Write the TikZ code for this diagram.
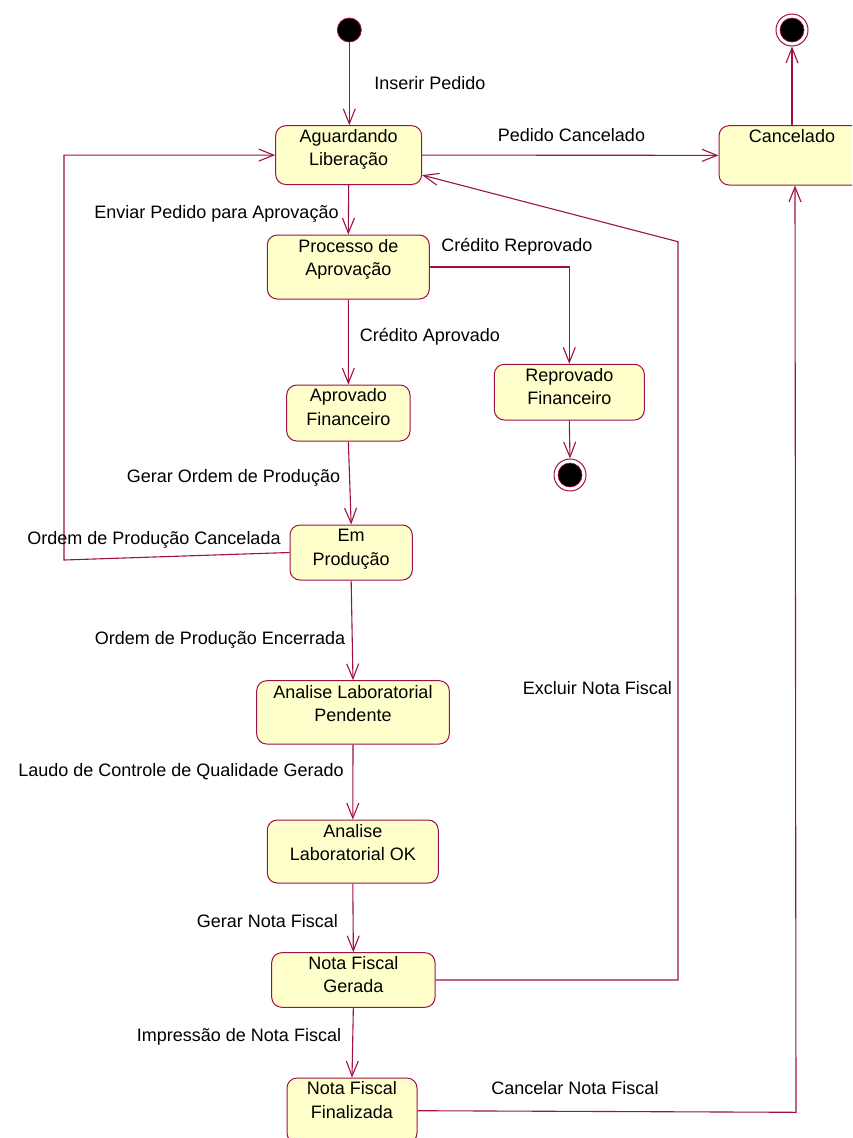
\documentclass[tikz,border=0pt]{standalone}
\usepackage{fontspec}
\setmainfont{Liberation Sans}
\usetikzlibrary{arrows.meta}
\definecolor{linecol}{RGB}{160,16,72}
\definecolor{statefill}{RGB}{255,255,204}
\tikzset{
  statebox/.style={rectangle, rounded corners=10pt, draw=linecol, fill=statefill,
    line width=1pt, inner sep=0pt},
  statetext/.style={anchor=north, inner sep=0pt, align=center,
    font=\fontsize{18}{23.5}\selectfont},
  edgelabel/.style={anchor=base, inner sep=0pt, font=\fontsize{18}{23.5}\selectfont},
  edge/.style={draw=linecol, line width=1.1pt,
    -{Straight Barb[length=15pt,width=12pt,line width=1.1pt]}},
  initdot/.style={circle, fill=black, draw=linecol, line width=0.8pt,
    minimum size=24pt, inner sep=0pt},
  finalring/.style={circle, fill=white, draw=linecol, line width=1pt,
    minimum size=32pt, inner sep=0pt},
  finaldot/.style={circle, fill=black, draw=linecol, line width=0.6pt,
    minimum size=24pt, inner sep=0pt}
}
\begin{document}
\begin{tikzpicture}[x=1pt,y=-1pt]
\useasboundingbox (0,0) rectangle (852,1138);
\clip (0,0) rectangle (852,1138);

% pseudo states
\node[initdot] (init) at (349.3,30) {};
\node[finalring] (endtop) at (792,30) {};
\node[finaldot] (endtopdot) at (792,30) {};
\node[finalring] (endrep) at (570,475) {};
\node[finaldot] (endrepdot) at (570,475) {};

% states
\node[statebox, minimum width=146pt, minimum height=58.8pt] (agu) at (348.7,155.1) {};
\node[statetext] (agu-t) at ([yshift=-4pt]agu.north) {Aguardando\\Liberação};

\node[statebox, minimum width=146pt, minimum height=59.3pt] (can) at (792,155.35) {};
\node[statetext] (can-t) at ([yshift=-4pt]can.north) {Cancelado};

\node[statebox, minimum width=162pt, minimum height=64pt] (proc) at (348.3,267) {};
\node[statetext] (proc-t) at ([yshift=-4.3pt]proc.north) {Processo de\\Aprovação};

\node[statebox, minimum width=150pt, minimum height=55.7pt] (repr) at (569.3,392.15) {};
\node[statetext] (repr-t) at ([yshift=-4pt]repr.north) {Reprovado\\Financeiro};

\node[statebox, minimum width=123.3pt, minimum height=56pt] (aprov) at (348.35,413) {};
\node[statetext] (aprov-t) at ([yshift=-3.8pt]aprov.north) {Aprovado\\Financeiro};

\node[statebox, minimum width=122.3pt, minimum height=55pt] (emp) at (351.15,552.5) {};
\node[statetext] (emp-t) at ([yshift=-4.8pt]emp.north) {Em\\Produção};

\node[statebox, minimum width=192.6pt, minimum height=63.3pt] (pend) at (353,712.35) {};
\node[statetext] (pend-t) at ([yshift=-4.6pt]pend.north) {Analise Laboratorial\\Pendente};

\node[statebox, minimum width=171pt, minimum height=63pt] (lok) at (352.8,851.5) {};
\node[statetext] (lok-t) at ([yshift=-4.3pt]lok.north) {Analise\\Laboratorial OK};

\node[statebox, minimum width=163.3pt, minimum height=54.6pt] (ger) at (353.35,980) {};
\node[statetext] (ger-t) at ([yshift=-4pt]ger.north) {Nota Fiscal\\Gerada};

\node[statebox, minimum width=130pt, minimum height=65pt] (fin) at (352,1110.5) {};
\node[statetext] (fin-t) at ([yshift=-4pt]fin.north) {Nota Fiscal\\Finalizada};

% bend points
\coordinate (kRep) at (569.3,267);
\coordinate (kCanA) at (64,560);
\coordinate (kCanB) at (64,155.1);
\coordinate (kExcA) at (678,980);
\coordinate (kExcB) at (678,241.7);
\coordinate (kFinA) at (796,1112.3);

% transitions
\draw[edge] (init.south) -- (init.south |- agu.north);
\draw[edge] (agu.east) -- (can.west);
\draw[edge] (can.north) -- (endtop.south);
\draw[edge] (agu.south) -- (proc.north);
\draw[edge] (proc.east) -- (kRep) -- (repr.north);
\draw[edge] (repr.south) -- (endrep.north);
\draw[edge] (proc.south) -- (aprov.north);
\draw[edge] (aprov.south) -- (emp.north);
\draw[edge] (emp.west) -- (kCanA) -- (kCanB) -- (agu.west);
\draw[edge] (emp.south) -- (pend.north);
\draw[edge] (pend.south) -- (lok.north);
\draw[edge] (lok.south) -- (ger.north);
\draw[edge] (ger.east) -- (kExcA) -- (kExcB) -- ([yshift=-20pt]agu.east);
\draw[edge] (ger.south) -- (fin.north);
\draw[edge] ([yshift=-0.2pt]fin.east) -- (kFinA) -- ([xshift=3pt]can.south);

% transition labels
\node[edgelabel] (l-ins) at (430,89) {Inserir Pedido};
\node[edgelabel] (l-pcan) at (571.5,141.5) {Pedido Cancelado};
\node[edgelabel] (l-env) at (216.5,218) {Enviar Pedido para Aprovação};
\node[edgelabel] (l-crep) at (517,251.7) {Crédito Reprovado};
\node[edgelabel] (l-capr) at (430,341.7) {Crédito Aprovado};
\node[edgelabel] (l-gord) at (233.5,482) {Gerar Ordem de Produção};
\node[edgelabel] (l-ocan) at (154,544.3) {Ordem de Produção Cancelada};
\node[edgelabel] (l-oenc) at (220,644) {Ordem de Produção Encerrada};
\node[edgelabel] (l-exc) at (597.5,694) {Excluir Nota Fiscal};
\node[edgelabel] (l-laudo) at (181,776.7) {Laudo de Controle de Qualidade Gerado};
\node[edgelabel] (l-gnf) at (267.5,927.7) {Gerar Nota Fiscal};
\node[edgelabel] (l-imp) at (239,1041) {Impressão de Nota Fiscal};
\node[edgelabel] (l-cnf) at (575,1094) {Cancelar Nota Fiscal};
\end{tikzpicture}
\end{document}
